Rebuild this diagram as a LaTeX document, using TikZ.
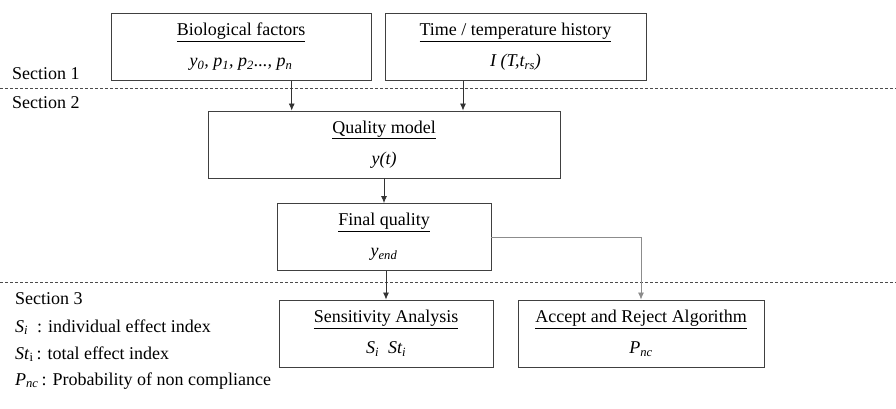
\documentclass[tikz,border=0pt]{standalone}
\usepackage{fontspec}
\setmainfont{Liberation Serif}
\usepackage{tikz}
\usetikzlibrary{arrows.meta}

\newcommand{\sbs}[1]{\textsubscript{#1}}

\begin{document}
\begin{tikzpicture}[x=1pt, y=-1pt,
    every node/.style={font=\rmfamily\fontsize{18}{21}\selectfont},
    box/.style={draw=black!75, line width=0.9pt, align=center, minimum height=67pt, inner sep=0pt},
    flow/.style={draw=black!80, line width=0.8pt, -{Latex[length=7pt,width=6pt]}},
    sep/.style={draw=black!70, line width=0.6pt, dash pattern=on 3pt off 2pt},
    lbl/.style={anchor=west, inner sep=0pt}]

\useasboundingbox (0,0) rectangle (896,408);

% Section separators
\draw[sep] (0,88) -- (896,88);
\draw[sep] (0,282) -- (896,282);

% Section labels and legend
\node[lbl] (s1) at (12,74) {Section 1};
\node[lbl] (s2) at (12,103) {Section 2};
\node[lbl] (s3) at (15,299) {Section 3};
\node[lbl] (lsi) at (15,327) {\textit{S\sbs{i}}\ \ : individual effect index};
\node[lbl] (lst) at (15,354) {\textit{St}\sbs{i}\,: total effect index};
\node[lbl] (lpn) at (15,381) {\textit{P\sbs{nc}}\,: Probability of non compliance};

% Boxes
\node[box, minimum width=260pt] (bio) at (241,47)
    {\underline{Biological factors}\\[10pt] \textit{y\sbs{0}, p\sbs{1}, p\sbs{2}..., p\sbs{n}}};
\node[box, minimum width=261pt] (time) at (515.5,47)
    {\underline{Time / temperature history}\\[10pt] \textit{I (T,t\sbs{rs})}};
\node[box, minimum width=352pt] (quality) at (384,144.5)
    {\underline{Quality model}\\[10pt] \textit{y(t)}};
\node[box, minimum width=214pt] (final) at (384,237)
    {\underline{Final quality}\\[10pt] \textit{y\sbs{end}}};
\node[box, minimum width=214pt] (sens) at (386,333.5)
    {\underline{Sensitivity Analysis}\\[10pt] \textit{S\sbs{i}\enspace St\sbs{i}}};
\node[box, minimum width=246pt] (accept) at (641,333.5)
    {\underline{Accept and Reject Algorithm}\\[10pt] \textit{P\sbs{nc}}};

% Arrows
\draw[flow] ([xshift=50.7pt]bio.south) -- ([xshift=50.7pt]bio.south |- quality.north);
\draw[flow] ([xshift=-52.5pt]time.south) -- ([xshift=-52.5pt]time.south |- quality.north);
\draw[flow] (quality.south) -- (final.north);
\draw[flow] ([xshift=2pt]final.south) -- ([xshift=2pt]final.south |- sens.north);
\draw[flow, draw=black!45] (final.east) -| (accept.north);

\end{tikzpicture}
\end{document}
